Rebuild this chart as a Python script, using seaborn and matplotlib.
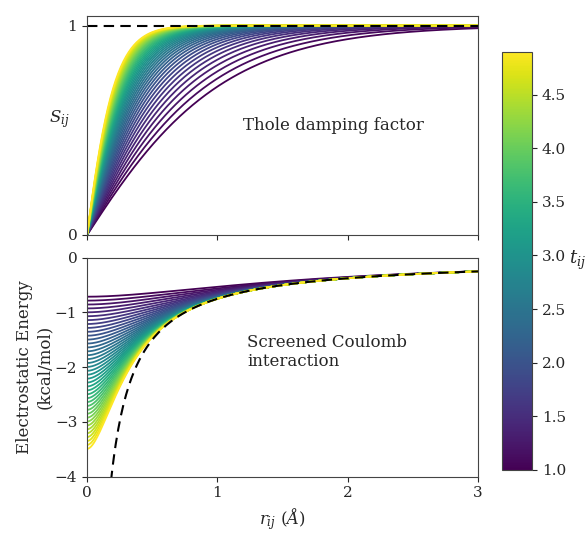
import numpy as np
import pandas as pd
import matplotlib
matplotlib.use("Agg")
import matplotlib.pyplot as plt
import seaborn as sns

# damping parameter t_ij for each curve (colour)
t_values = [1.0, 1.1, 1.2, 1.3, 1.4, 1.5, 1.6, 1.7, 1.8, 1.9,
            2.0, 2.1, 2.2, 2.3, 2.4, 2.5, 2.6, 2.7, 2.8, 2.9,
            3.0, 3.1, 3.2, 3.3, 3.4, 3.5, 3.6, 3.7, 3.8, 3.9,
            4.0, 4.1, 4.2, 4.3, 4.4, 4.5, 4.6, 4.7, 4.8, 4.9]
coulomb_k = 0.75      # kcal/mol * A
thole_scale = 1.9     # a = thole_scale * t
r_values = np.linspace(0.0, 3.0, 301)

cbar_ticks = [1.0, 1.5, 2.0, 2.5, 3.0, 3.5, 4.0, 4.5]

rows = []
for t in t_values:
    a = thole_scale * t
    for r in r_values:
        s = 1.0 - (1.0 + a * r / 2.0) * np.exp(-a * r)
        e = -coulomb_k * (a / 2.0 if r == 0 else s / r)
        rows.append((t, r, s, e))
df = pd.DataFrame(rows, columns=["t", "r", "S", "E"])

r_coul = r_values[r_values > 0.15]
coul = pd.DataFrame({"r": r_coul, "E": -coulomb_k / r_coul})

sns.set_style("ticks")
plt.rcParams["font.family"] = ["DejaVu Serif"]
plt.rcParams["mathtext.fontset"] = "dejavuserif"
plt.rcParams["axes.edgecolor"] = "#444444"

fig = plt.figure(figsize=(5.88, 5.37), dpi=100)
ax1 = fig.add_axes([0.148, 0.5624, 0.665, 0.408])
ax2 = fig.add_axes([0.148, 0.1123, 0.665, 0.4078])
cax = fig.add_axes([0.854, 0.1248, 0.051, 0.779])

norm = (min(t_values), max(t_values))
sns.lineplot(data=df, x="r", y="S", hue="t", palette="viridis", hue_norm=norm,
             legend=False, ax=ax1, linewidth=1.3, estimator=None, sort=False)
ax1.axhline(1.0, color="black", linestyle=(0, (5, 3)), linewidth=1.5)
ax1.set_xlim(0, 3)
ax1.set_ylim(0, 1.046)
ax1.set_xticks([0, 1, 2, 3])
ax1.set_xticklabels([])
ax1.set_yticks([0, 1])
ax1.set_xlabel("")
ax1.set_ylabel(r"$S_{ij}$", rotation=0, fontsize=12, ha="center", va="center")
ax1.yaxis.set_label_coords(-0.07, 0.53)
ax1.text(1.2, 0.525, "Thole damping factor", fontsize=12, va="center")

sns.lineplot(data=df, x="r", y="E", hue="t", palette="viridis", hue_norm=norm,
             legend=False, ax=ax2, linewidth=1.3, estimator=None, sort=False)
sns.lineplot(data=coul, x="r", y="E", color="black", linestyle=(0, (5, 3)),
             linewidth=1.5, ax=ax2)
ax2.set_xlim(0, 3)
ax2.set_ylim(-4, 0)
ax2.set_xticks([0, 1, 2, 3])
ax2.set_yticks([0, -1, -2, -3, -4])
ax2.set_xlabel(r"$r_{ij}$ ($Å$)", fontsize=12)
ax2.set_ylabel("Electrostatic Energy\n(kcal/mol)", fontsize=12, va="center")
ax2.yaxis.set_label_coords(-0.135, 0.5)
ax2.text(1.23, -1.72, "Screened Coulomb\ninteraction", fontsize=12, va="center",
         linespacing=1.1)

for ax in (ax1, ax2):
    ax.tick_params(labelsize=11)

sm = plt.cm.ScalarMappable(norm=plt.Normalize(*norm), cmap="viridis")
cb = fig.colorbar(sm, cax=cax)
cb.set_ticks(cbar_ticks)
cb.ax.tick_params(labelsize=11)
cb.set_label(r"$t_{ij}$", rotation=0, fontsize=13, labelpad=8, va="center")

fig.savefig("out.png", dpi=100)
